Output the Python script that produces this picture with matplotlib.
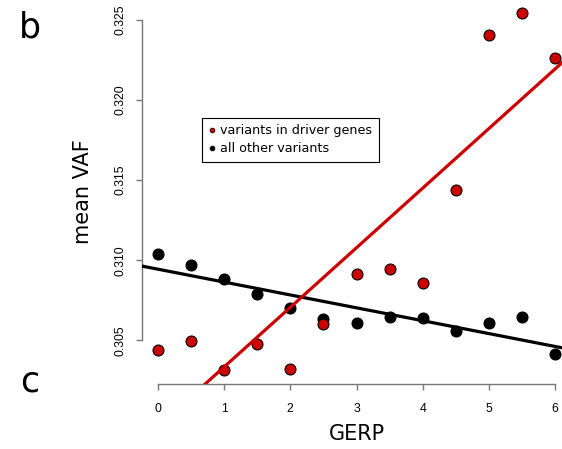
import numpy as np
import matplotlib
matplotlib.use("Agg")
import matplotlib.pyplot as plt
from matplotlib.lines import Line2D

gerp = [0, 0.5, 1, 1.5, 2, 2.5, 3, 3.5, 4, 4.5, 5, 5.5, 6]
vaf_driver = [0.30438, 0.30494, 0.30317, 0.30475, 0.30323, 0.30604, 0.30917,
              0.30944, 0.30856, 0.31438, 0.32408, 0.32542, 0.32264]
vaf_other = [0.31042, 0.30969, 0.30885, 0.30792, 0.30702, 0.30635, 0.30611,
             0.30644, 0.30642, 0.30556, 0.30608, 0.30646, 0.30413]
xticks = [0, 1, 2, 3, 4, 5, 6]
yticks = [0.305, 0.310, 0.315, 0.320, 0.325]
legend_labels = ["variants in driver genes", "all other variants"]

red = "#CC0000"
axis_grey = "#777777"
W, H = 562, 449

fig = plt.figure(figsize=(W / 100, H / 100), dpi=100)
ax = fig.add_axes([142 / W, (H - 384) / H, (571 - 142) / W, 385 / H])

# R-style 4% padding around the data range
allv = vaf_driver + vaf_other
lo, hi = min(allv), max(allv)
pad = 0.04 * (hi - lo)
ax.set_xlim(-0.24, 6.24)
ax.set_ylim(lo - pad, hi + pad)

ax.scatter(gerp, vaf_other, s=62, c="black", edgecolors="black", linewidths=0.8, zorder=3)
ax.scatter(gerp, vaf_driver, s=62, c=red, edgecolors="black", linewidths=0.8, zorder=4)

# least-squares fits, drawn across the whole plot region
b1, a1 = np.polyfit(gerp, vaf_other, 1)
b2, a2 = np.polyfit(gerp, vaf_driver, 1)
ax.axline((0, a1), slope=b1, color="black", lw=2.3, zorder=5)
ax.axline((0, a2), slope=b2, color=red, lw=2.3, zorder=6)

for s in ["top", "right"]:
    ax.spines[s].set_visible(False)
ax.spines["bottom"].set_bounds(xticks[0], xticks[-1])
ax.spines["left"].set_bounds(yticks[0], yticks[-1])
for s in ["bottom", "left"]:
    ax.spines[s].set_color(axis_grey)
    ax.spines[s].set_linewidth(1.0)

ax.set_xticks(xticks)
ax.set_xticklabels([str(v) for v in xticks])
ax.set_yticks(yticks)
ax.set_yticklabels([f"{v:.3f}" for v in yticks], rotation=90, va="center")
ax.tick_params(axis="both", length=4.5, width=1.0, color=axis_grey, labelsize=8.7)
ax.tick_params(axis="x", pad=9)
ax.tick_params(axis="y", pad=7)
for lab in ax.get_xticklabels() + ax.get_yticklabels():
    lab.set_family("Liberation Sans")

fig.text(356.5 / W, 1 - 434 / H, "GERP", fontsize=15, ha="center", va="center")
fig.text(83 / W, 1 - 191.5 / H, "mean VAF", fontsize=15, ha="center", va="center", rotation=90)
fig.text(30 / W, 1 - 37 / H, "b", fontsize=25, ha="center", va="baseline")
fig.text(30 / W, 1 - 392 / H, "c", fontsize=25, ha="center", va="baseline")

handles = [Line2D([], [], ls="none", marker="o", ms=3.5, mfc=red, mec="black", mew=0.5),
           Line2D([], [], ls="none", marker="o", ms=3.5, mfc="black", mec="black", mew=0.5)]
leg = ax.legend(handles, legend_labels, loc="upper left",
                bbox_to_anchor=(201.7 / W, 1 - 118 / H), bbox_transform=fig.transFigure,
                borderaxespad=0, fontsize=9.2, fancybox=False, framealpha=1,
                edgecolor="black", handlelength=0.6, handletextpad=0.35,
                borderpad=0.5, labelspacing=0.4)
leg.get_frame().set_linewidth(0.8)

fig.savefig("out.png", dpi=100)
